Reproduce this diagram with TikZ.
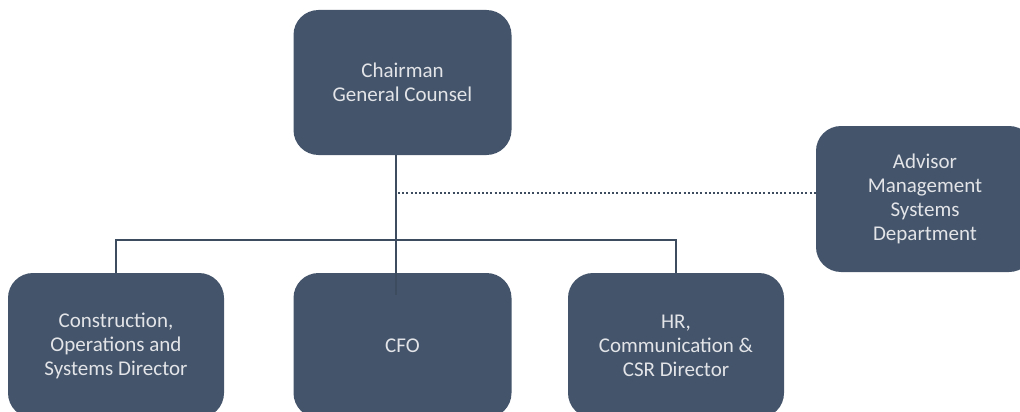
\documentclass[tikz,border=0pt]{standalone}
\usepackage{fontspec}
\setmainfont{Carlito}
\definecolor{boxblue}{HTML}{44546A}
\definecolor{linegray}{HTML}{3E4C60}
\definecolor{txtgray}{HTML}{E2E4E8}
\tikzset{
  orgbox/.style={fill=boxblue, rounded corners=25pt, text=txtgray, align=center,
    minimum width=218pt, minimum height=145pt, inner sep=0pt,
    font=\fontsize{21}{24}\selectfont},
  link/.style={draw=linegray, line width=2pt},
  advise/.style={draw=linegray, line width=2.3pt, dash pattern=on 2pt off 2.2pt}
}
\begin{document}
\begin{tikzpicture}[x=1pt,y=-1pt]
\useasboundingbox (0,0) rectangle (1020,412);
\clip (0,0) rectangle (1020,412);
% boxes
\node[orgbox,minimum height=146pt] (advisor) at (925,199) {Advisor\\Management\\Systems\\Department};
\node[orgbox] (chair) at (402.5,82.5) {Chairman\\General Counsel};
\node[orgbox,minimum width=216pt] (cons) at (116,345.5) {Construction,\\Operations and\\Systems Director};
\node[orgbox] (cfo) at (402.5,345.5) {CFO};
\node[orgbox,minimum width=216pt] (hr) at (676,345.5) {HR,\\Communication \&\\CSR Director};
% connectors
\coordinate (trunk) at (396,240);
\coordinate (dot) at (396,193);
\draw[link] (chair.south -| trunk) -- ([yshift=-22pt]cfo.north -| trunk);
\draw[link] (cons.north) -- (cons.north |- trunk) -- (hr.north |- trunk) -- (hr.north);
\draw[advise] ([xshift=2pt]dot) -- (advisor.west |- dot);
\end{tikzpicture}
\end{document}
